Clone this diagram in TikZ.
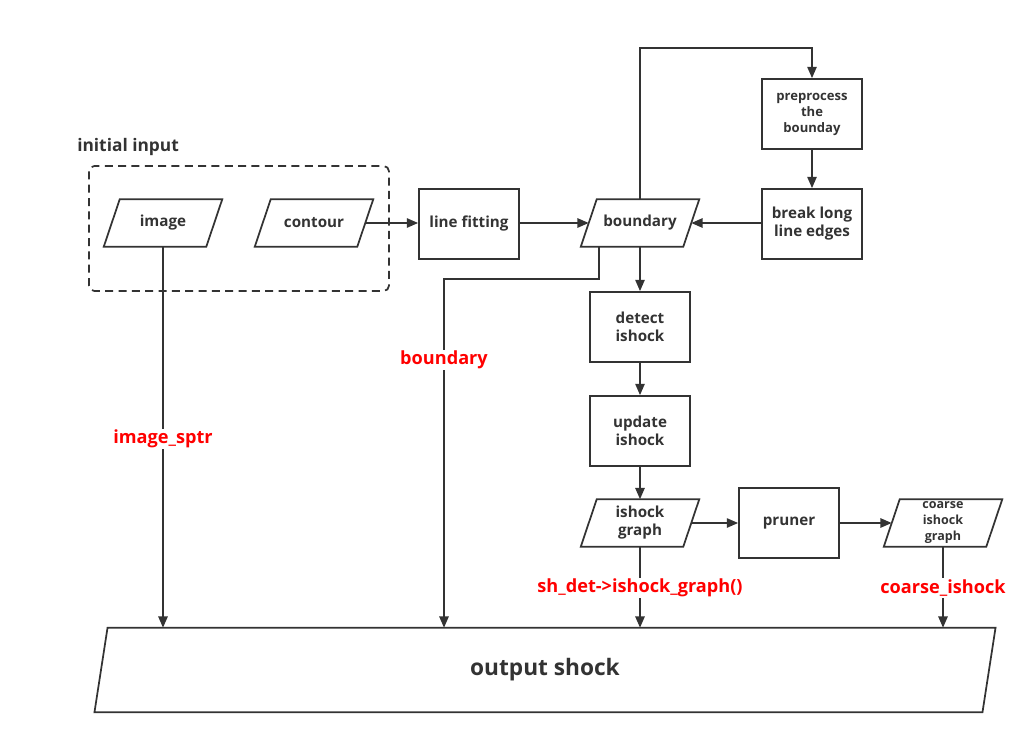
\documentclass[tikz,border=0pt]{standalone}
\usepackage{fontspec}
\setmainfont{Open Sans}
\usetikzlibrary{arrows.meta}
\definecolor{ink}{HTML}{333333}
\definecolor{lblred}{HTML}{FF0000}
\tikzset{
  base/.style={inner sep=0pt, align=center, text=ink, font=\bfseries\fontsize{11.4}{13.5}\selectfont},
  boxnode/.style={base, draw=ink, line width=1.3pt, minimum width=75pt, minimum height=52.5pt},
  paranode/.style={base, minimum width=76.5pt, minimum height=35.25pt},
  arr/.style={draw=ink, line width=1.3pt, -{Triangle[length=8.5pt,width=7pt]}},
  redlbl/.style={fill=white, inner sep=1pt, text=lblred, font=\bfseries\fontsize{13.6}{15}\selectfont},
}
\begin{document}
\begin{tikzpicture}[x=0.75pt,y=-0.75pt]
\useasboundingbox (0,0) rectangle (1034,742);
% group
\node[base, anchor=west, font=\bfseries\fontsize{13}{15}\selectfont] (ttl) at (77,147) {initial input};
\draw[ink, line width=1.3pt, dash pattern=on 6pt off 4pt, rounded corners=4pt] (89,166) rectangle (389,291);
% nodes
\node[paranode] (img) at (163,223) {image};
\node[paranode] (con) at (314,223) {contour};
\node[boxnode] (lf) at (469,224) {line fitting};
\node[paranode] (bnd) at (640,223) {boundary};
\node[boxnode, font=\bfseries\fontsize{9.8}{12}\selectfont] (pre) at (812,114) {preprocess\\the\\bounday};
\node[boxnode] (brk) at (812,224) {break long\\line edges};
\node[boxnode] (det) at (640,327) {detect\\ishock};
\node[boxnode] (upd) at (640,431) {update\\ishock};
\node[paranode] (ig) at (640,523) {ishock\\graph};
\node[boxnode] (pr) at (789,523) {pruner};
\node[paranode, font=\bfseries\fontsize{9.4}{12}\selectfont] (cg) at (943,523) {coarse\\ishock\\graph};
\node[base, minimum width=665.6pt, minimum height=63pt, font=\bfseries\fontsize{17}{19}\selectfont] (out) at (545,670) {output shock};
% parallelogram outlines
\foreach \n/\s in {img/6pt, con/6pt, bnd/6pt, ig/6pt, cg/6pt, out/4.9pt}
  \draw[ink, line width=1.3pt] ([xshift=\s]\n.north west) -- ([xshift=\s]\n.north east) -- ([xshift=-\s]\n.south east) -- ([xshift=-\s]\n.south west) -- cycle;
% connectors
\coordinate (top) at (640,48);
\coordinate (bl) at (444,279);
\draw[arr] (con.east) -- (lf.west |- con.east);
\draw[arr] (lf.east |- bnd.west) -- (bnd.west);
\draw[arr] (bnd.north) -- (top) -| (pre.north);
\draw[arr] (pre.south) -- (brk.north);
\draw[arr] (brk.west |- bnd.east) -- (bnd.east);
\draw[arr] (bnd.south) -- (det.north);
\draw[arr] (det.south) -- (upd.north);
\draw[arr] (upd.south) -- (ig.north);
\draw[arr] (ig.east) -- (pr.west);
\draw[arr] (pr.east) -- (cg.west);
\draw[arr] (img.south) -- (img |- out.north);
\draw[arr] ([xshift=-30.75pt]bnd.south) |- (bl) -- (bl |- out.north);
\draw[arr] (ig.south) -- (ig |- out.north);
\draw[arr] (cg.south) -- (cg |- out.north);
% labels
\node[redlbl] (l1) at (163,439) {image\_sptr};
\node[redlbl] (l2) at (444,360) {boundary};
\node[redlbl] (l3) at (640,588) {sh\_det->ishock\_graph()};
\node[redlbl] (l4) at (943,588) {coarse\_ishock};
\end{tikzpicture}
\end{document}
